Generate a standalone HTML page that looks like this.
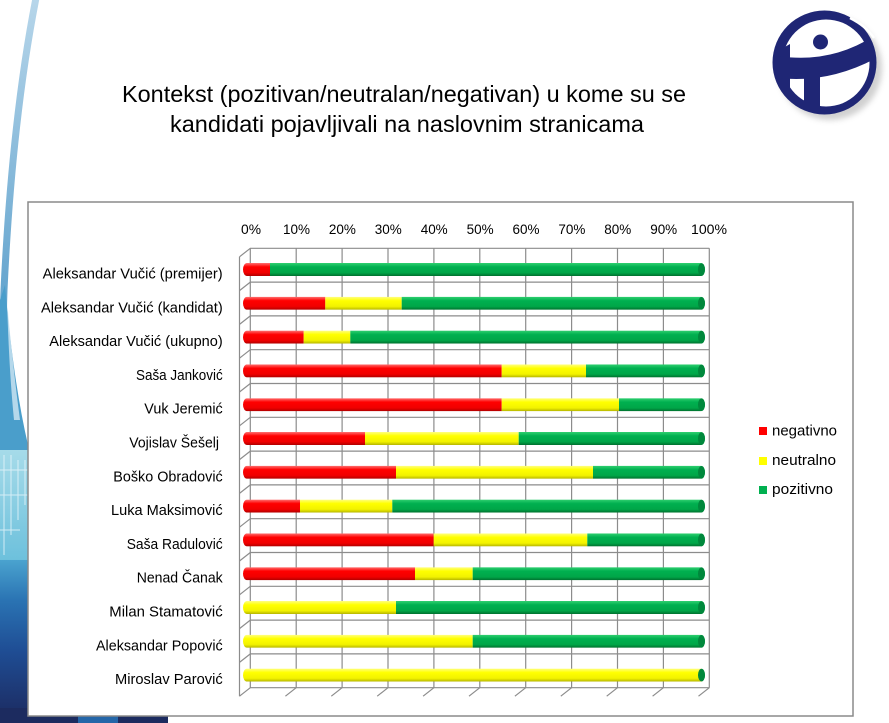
<!DOCTYPE html>
<html>
<head>
<meta charset="utf-8">
<style>
html,body{margin:0;padding:0;background:#fff;}
svg{display:block;}
text{font-family:"Liberation Sans",Arial,sans-serif;}
</style>
</head>
<body>
<svg width="889" height="723" viewBox="0 0 889 723" xmlns="http://www.w3.org/2000/svg">
<defs>
  <linearGradient id="gR" x1="0" y1="0" x2="0" y2="1">
    <stop offset="0" stop-color="#ff7070"/>
    <stop offset="0.3" stop-color="#ff0000"/>
    <stop offset="0.75" stop-color="#f00000"/>
    <stop offset="1" stop-color="#b00000"/>
  </linearGradient>
  <linearGradient id="gY" x1="0" y1="0" x2="0" y2="1">
    <stop offset="0" stop-color="#ffff80"/>
    <stop offset="0.3" stop-color="#ffff00"/>
    <stop offset="0.75" stop-color="#f2f200"/>
    <stop offset="1" stop-color="#b5b500"/>
  </linearGradient>
  <linearGradient id="gG" x1="0" y1="0" x2="0" y2="1">
    <stop offset="0" stop-color="#30d070"/>
    <stop offset="0.3" stop-color="#00b050"/>
    <stop offset="0.75" stop-color="#00a648"/>
    <stop offset="1" stop-color="#00702e"/>
  </linearGradient>
  <linearGradient id="bgBot" x1="0" y1="0" x2="0" y2="1">
    <stop offset="0" stop-color="#4aa3cf"/>
    <stop offset="0.25" stop-color="#2a73b3"/>
    <stop offset="0.55" stop-color="#1f4e95"/>
    <stop offset="0.85" stop-color="#1d3570"/>
    <stop offset="1" stop-color="#1b2a5e"/>
  </linearGradient>
  <linearGradient id="bgCyan" x1="0" y1="0" x2="0" y2="1">
    <stop offset="0" stop-color="#a6dbe9"/>
    <stop offset="1" stop-color="#6cc0dc"/>
  </linearGradient>
  <linearGradient id="bgArc" x1="0" y1="0" x2="0" y2="1">
    <stop offset="0" stop-color="#b7d6ea"/>
    <stop offset="0.6" stop-color="#6aa8d0"/>
    <stop offset="1" stop-color="#3d93c4"/>
  </linearGradient>
  <filter id="blur" x="-20%" y="-20%" width="140%" height="140%">
    <feGaussianBlur stdDeviation="3"/>
  </filter>
  <clipPath id="logoClip"><circle cx="824.5" cy="62.5" r="51"/></clipPath>
</defs>

<!-- left background decoration -->
<path d="M36,-2 Q12,120 4,290 Q1,380 2,460" fill="none" stroke="url(#bgArc)" stroke-width="7"/>
<path d="M5,285 Q13,380 28,445 L28,462 L0,462 L0,300 Z" fill="#4a9ecb"/>
<path d="M7,300 Q12,360 20,420 L14,420 Q9,370 7,300 Z" fill="#cfe6f2" opacity="0.8"/>
<rect x="0" y="450" width="30" height="112" fill="url(#bgCyan)"/>
<g stroke="#e8f6fb" stroke-width="1" opacity="0.8" fill="none">
  <line x1="4" y1="455" x2="4" y2="555"/>
  <line x1="11" y1="455" x2="11" y2="535"/>
  <line x1="18" y1="460" x2="18" y2="520"/>
  <line x1="25" y1="460" x2="25" y2="505"/>
  <line x1="0" y1="470" x2="30" y2="470"/>
  <line x1="0" y1="495" x2="30" y2="495"/>
  <line x1="0" y1="530" x2="20" y2="530"/>
</g>
<rect x="0" y="560" width="30" height="163" fill="url(#bgBot)"/>
<rect x="0" y="708" width="168" height="15" fill="#1c2b5f"/>
<rect x="78" y="708" width="40" height="15" fill="#2466a8"/>

<!-- logo -->
<circle cx="830" cy="68" r="52" fill="#999" opacity="0.45" filter="url(#blur)"/>
<circle cx="824.5" cy="62.5" r="52" fill="#1f2675"/>
<g clip-path="url(#logoClip)">
  <circle cx="826" cy="63" r="43.5" fill="#ffffff"/>
  <path d="M778,56 Q830,64 874,36 L880,56 Q830,84 778,78 Z" fill="#1f2675"/>
  <path d="M804,72 L820,72 L820,116 L804,116 Z" fill="#1f2675"/>
  <path d="M783,48 L790,44 L790,102 L783,96 Z" fill="#1f2675"/>
  <circle cx="820.5" cy="42" r="7.5" fill="#1f2675"/>
</g>
<path d="M850,18 Q866,26 874,38" fill="none" stroke="#ffffff" stroke-width="2.5"/>

<!-- title -->
<text x="122" y="102" font-size="23" fill="#000" textLength="564" lengthAdjust="spacingAndGlyphs">Kontekst (pozitivan/neutralan/negativan) u kome su se</text>
<text x="170" y="132" font-size="23" fill="#000" textLength="474" lengthAdjust="spacingAndGlyphs">kandidati pojavljivali na naslovnim stranicama</text>

<!-- chart box -->
<rect x="28" y="202" width="825" height="514" fill="#ffffff" stroke="#8a8a8a" stroke-width="1.5"/>

<!-- gridlines -->
<g stroke="#8c8c8c" stroke-width="1.2" fill="none">
  <line x1="250" y1="248.3" x2="709.3" y2="248.3"/>
  <line x1="250" y1="282.1" x2="709.3" y2="282.1"/>
  <line x1="250" y1="315.9" x2="709.3" y2="315.9"/>
  <line x1="250" y1="349.7" x2="709.3" y2="349.7"/>
  <line x1="250" y1="383.5" x2="709.3" y2="383.5"/>
  <line x1="250" y1="417.3" x2="709.3" y2="417.3"/>
  <line x1="250" y1="451.1" x2="709.3" y2="451.1"/>
  <line x1="250" y1="484.9" x2="709.3" y2="484.9"/>
  <line x1="250" y1="518.7" x2="709.3" y2="518.7"/>
  <line x1="250" y1="552.5" x2="709.3" y2="552.5"/>
  <line x1="250" y1="586.3" x2="709.3" y2="586.3"/>
  <line x1="250" y1="620.1" x2="709.3" y2="620.1"/>
  <line x1="250" y1="653.9" x2="709.3" y2="653.9"/>
  <line x1="250" y1="687.7" x2="709.3" y2="687.7"/>
  <line x1="250.3" y1="248.3" x2="250.3" y2="687.7"/>
  <line x1="296.2" y1="248.3" x2="296.2" y2="687.7"/>
  <line x1="342.1" y1="248.3" x2="342.1" y2="687.7"/>
  <line x1="388" y1="248.3" x2="388" y2="687.7"/>
  <line x1="433.9" y1="248.3" x2="433.9" y2="687.7"/>
  <line x1="479.8" y1="248.3" x2="479.8" y2="687.7"/>
  <line x1="525.7" y1="248.3" x2="525.7" y2="687.7"/>
  <line x1="571.6" y1="248.3" x2="571.6" y2="687.7"/>
  <line x1="617.5" y1="248.3" x2="617.5" y2="687.7"/>
  <line x1="663.4" y1="248.3" x2="663.4" y2="687.7"/>
  <line x1="709.3" y1="248.3" x2="709.3" y2="687.7"/>
  <line x1="239.5" y1="256.8" x2="239.5" y2="696.2"/>
  <line x1="250.3" y1="248.3" x2="239.5" y2="256.8"/>
  <line x1="250.3" y1="282.1" x2="239.5" y2="290.6"/>
  <line x1="250.3" y1="315.9" x2="239.5" y2="324.4"/>
  <line x1="250.3" y1="349.7" x2="239.5" y2="358.2"/>
  <line x1="250.3" y1="383.5" x2="239.5" y2="392"/>
  <line x1="250.3" y1="417.3" x2="239.5" y2="425.8"/>
  <line x1="250.3" y1="451.1" x2="239.5" y2="459.6"/>
  <line x1="250.3" y1="484.9" x2="239.5" y2="493.4"/>
  <line x1="250.3" y1="518.7" x2="239.5" y2="527.2"/>
  <line x1="250.3" y1="552.5" x2="239.5" y2="561"/>
  <line x1="250.3" y1="586.3" x2="239.5" y2="594.8"/>
  <line x1="250.3" y1="620.1" x2="239.5" y2="628.6"/>
  <line x1="250.3" y1="653.9" x2="239.5" y2="662.4"/>
  <line x1="250.3" y1="687.7" x2="239.5" y2="696.2"/>
  <line x1="296.2" y1="687.7" x2="285.4" y2="696.2"/>
  <line x1="342.1" y1="687.7" x2="331.3" y2="696.2"/>
  <line x1="388" y1="687.7" x2="377.2" y2="696.2"/>
  <line x1="433.9" y1="687.7" x2="423.1" y2="696.2"/>
  <line x1="479.8" y1="687.7" x2="469" y2="696.2"/>
  <line x1="525.7" y1="687.7" x2="514.9" y2="696.2"/>
  <line x1="571.6" y1="687.7" x2="560.8" y2="696.2"/>
  <line x1="617.5" y1="687.7" x2="606.7" y2="696.2"/>
  <line x1="663.4" y1="687.7" x2="652.6" y2="696.2"/>
  <line x1="709.3" y1="687.7" x2="698.5" y2="696.2"/>
</g>

<!-- tick labels -->
<g font-size="14" fill="#000" text-anchor="middle">
  <text x="251" y="234" textLength="20" lengthAdjust="spacingAndGlyphs">0%</text>
  <text x="296.5" y="234" textLength="27" lengthAdjust="spacingAndGlyphs">10%</text>
  <text x="342.4" y="234" textLength="27" lengthAdjust="spacingAndGlyphs">20%</text>
  <text x="388.3" y="234" textLength="27" lengthAdjust="spacingAndGlyphs">30%</text>
  <text x="434.2" y="234" textLength="27" lengthAdjust="spacingAndGlyphs">40%</text>
  <text x="480.1" y="234" textLength="27" lengthAdjust="spacingAndGlyphs">50%</text>
  <text x="526" y="234" textLength="27" lengthAdjust="spacingAndGlyphs">60%</text>
  <text x="571.9" y="234" textLength="27" lengthAdjust="spacingAndGlyphs">70%</text>
  <text x="617.8" y="234" textLength="27" lengthAdjust="spacingAndGlyphs">80%</text>
  <text x="663.7" y="234" textLength="27" lengthAdjust="spacingAndGlyphs">90%</text>
  <text x="709" y="234" textLength="36" lengthAdjust="spacingAndGlyphs">100%</text>
</g>

<!-- row labels -->
<g font-size="14.5" fill="#000">
  <text x="42.7" y="278.5" textLength="180" lengthAdjust="spacingAndGlyphs">Aleksandar Vučić (premijer)</text>
  <text x="41" y="312.3" textLength="181.7" lengthAdjust="spacingAndGlyphs">Aleksandar Vučić (kandidat)</text>
  <text x="49.3" y="346.1" textLength="173.4" lengthAdjust="spacingAndGlyphs">Aleksandar Vučić (ukupno)</text>
  <text x="136" y="379.9" textLength="86.7" lengthAdjust="spacingAndGlyphs">Saša Janković</text>
  <text x="144.3" y="413.7" textLength="78.4" lengthAdjust="spacingAndGlyphs">Vuk Jeremić</text>
  <text x="129.3" y="447.5" textLength="89.7" lengthAdjust="spacingAndGlyphs">Vojislav Šešelj</text>
  <text x="113.3" y="481.3" textLength="109.4" lengthAdjust="spacingAndGlyphs">Boško Obradović</text>
  <text x="111" y="515.1" textLength="111.7" lengthAdjust="spacingAndGlyphs">Luka Maksimović</text>
  <text x="126.7" y="548.9" textLength="96" lengthAdjust="spacingAndGlyphs">Saša Radulović</text>
  <text x="136.7" y="582.7" textLength="86" lengthAdjust="spacingAndGlyphs">Nenad Čanak</text>
  <text x="109.3" y="616.5" textLength="113.4" lengthAdjust="spacingAndGlyphs">Milan Stamatović</text>
  <text x="96" y="650.3" textLength="126.7" lengthAdjust="spacingAndGlyphs">Aleksandar Popović</text>
  <text x="115" y="684.1" textLength="107.7" lengthAdjust="spacingAndGlyphs">Miroslav Parović</text>
</g>

<!-- bars -->
<defs>
  <clipPath id="c0"><rect x="243" y="263" width="462" height="13" rx="4" ry="6.5"/></clipPath>
  <clipPath id="c1"><rect x="243" y="296.8" width="462" height="13" rx="4" ry="6.5"/></clipPath>
  <clipPath id="c2"><rect x="243" y="330.6" width="462" height="13" rx="4" ry="6.5"/></clipPath>
  <clipPath id="c3"><rect x="243" y="364.4" width="462" height="13" rx="4" ry="6.5"/></clipPath>
  <clipPath id="c4"><rect x="243" y="398.2" width="462" height="13" rx="4" ry="6.5"/></clipPath>
  <clipPath id="c5"><rect x="243" y="432" width="462" height="13" rx="4" ry="6.5"/></clipPath>
  <clipPath id="c6"><rect x="243" y="465.8" width="462" height="13" rx="4" ry="6.5"/></clipPath>
  <clipPath id="c7"><rect x="243" y="499.6" width="462" height="13" rx="4" ry="6.5"/></clipPath>
  <clipPath id="c8"><rect x="243" y="533.4" width="462" height="13" rx="4" ry="6.5"/></clipPath>
  <clipPath id="c9"><rect x="243" y="567.2" width="462" height="13" rx="4" ry="6.5"/></clipPath>
  <clipPath id="c10"><rect x="243" y="601" width="462" height="13" rx="4" ry="6.5"/></clipPath>
  <clipPath id="c11"><rect x="243" y="634.8" width="462" height="13" rx="4" ry="6.5"/></clipPath>
  <clipPath id="c12"><rect x="243" y="668.6" width="462" height="13" rx="4" ry="6.5"/></clipPath>
</defs>

<g clip-path="url(#c0)">
  <rect x="243" y="263" width="27" height="13" fill="url(#gR)"/>
  <rect x="270" y="263" width="435" height="13" fill="url(#gG)"/>
</g>
<g clip-path="url(#c1)">
  <rect x="243" y="296.8" width="82.3" height="13" fill="url(#gR)"/>
  <rect x="325.3" y="296.8" width="76.4" height="13" fill="url(#gY)"/>
  <rect x="401.7" y="296.8" width="303.3" height="13" fill="url(#gG)"/>
</g>
<g clip-path="url(#c2)">
  <rect x="243" y="330.6" width="60.7" height="13" fill="url(#gR)"/>
  <rect x="303.7" y="330.6" width="46.6" height="13" fill="url(#gY)"/>
  <rect x="350.3" y="330.6" width="354.7" height="13" fill="url(#gG)"/>
</g>
<g clip-path="url(#c3)">
  <rect x="243" y="364.4" width="258.7" height="13" fill="url(#gR)"/>
  <rect x="501.7" y="364.4" width="84.3" height="13" fill="url(#gY)"/>
  <rect x="586" y="364.4" width="119" height="13" fill="url(#gG)"/>
</g>
<g clip-path="url(#c4)">
  <rect x="243" y="398.2" width="258.7" height="13" fill="url(#gR)"/>
  <rect x="501.7" y="398.2" width="117.3" height="13" fill="url(#gY)"/>
  <rect x="619" y="398.2" width="86" height="13" fill="url(#gG)"/>
</g>
<g clip-path="url(#c5)">
  <rect x="243" y="432" width="122" height="13" fill="url(#gR)"/>
  <rect x="365" y="432" width="153.7" height="13" fill="url(#gY)"/>
  <rect x="518.7" y="432" width="186.3" height="13" fill="url(#gG)"/>
</g>
<g clip-path="url(#c6)">
  <rect x="243" y="465.8" width="153" height="13" fill="url(#gR)"/>
  <rect x="396" y="465.8" width="197" height="13" fill="url(#gY)"/>
  <rect x="593" y="465.8" width="112" height="13" fill="url(#gG)"/>
</g>
<g clip-path="url(#c7)">
  <rect x="243" y="499.6" width="57" height="13" fill="url(#gR)"/>
  <rect x="300" y="499.6" width="92.3" height="13" fill="url(#gY)"/>
  <rect x="392.3" y="499.6" width="312.7" height="13" fill="url(#gG)"/>
</g>
<g clip-path="url(#c8)">
  <rect x="243" y="533.4" width="190.7" height="13" fill="url(#gR)"/>
  <rect x="433.7" y="533.4" width="153.6" height="13" fill="url(#gY)"/>
  <rect x="587.3" y="533.4" width="117.7" height="13" fill="url(#gG)"/>
</g>
<g clip-path="url(#c9)">
  <rect x="243" y="567.2" width="172" height="13" fill="url(#gR)"/>
  <rect x="415" y="567.2" width="57.7" height="13" fill="url(#gY)"/>
  <rect x="472.7" y="567.2" width="232.3" height="13" fill="url(#gG)"/>
</g>
<g clip-path="url(#c10)">
  <rect x="243" y="601" width="153" height="13" fill="url(#gY)"/>
  <rect x="396" y="601" width="309" height="13" fill="url(#gG)"/>
</g>
<g clip-path="url(#c11)">
  <rect x="243" y="634.8" width="229.7" height="13" fill="url(#gY)"/>
  <rect x="472.7" y="634.8" width="232.3" height="13" fill="url(#gG)"/>
</g>
<g clip-path="url(#c12)">
  <rect x="243" y="668.6" width="459" height="13" fill="url(#gY)"/>
  <rect x="702" y="668.6" width="3" height="13" fill="url(#gG)"/>
</g>

<!-- right end caps -->
<g fill="#00883c">
  <ellipse cx="701.5" cy="269.5" rx="3.5" ry="6.3"/>
  <ellipse cx="701.5" cy="303.3" rx="3.5" ry="6.3"/>
  <ellipse cx="701.5" cy="337.1" rx="3.5" ry="6.3"/>
  <ellipse cx="701.5" cy="370.9" rx="3.5" ry="6.3"/>
  <ellipse cx="701.5" cy="404.7" rx="3.5" ry="6.3"/>
  <ellipse cx="701.5" cy="438.5" rx="3.5" ry="6.3"/>
  <ellipse cx="701.5" cy="472.3" rx="3.5" ry="6.3"/>
  <ellipse cx="701.5" cy="506.1" rx="3.5" ry="6.3"/>
  <ellipse cx="701.5" cy="539.9" rx="3.5" ry="6.3"/>
  <ellipse cx="701.5" cy="573.7" rx="3.5" ry="6.3"/>
  <ellipse cx="701.5" cy="607.5" rx="3.5" ry="6.3"/>
  <ellipse cx="701.5" cy="641.3" rx="3.5" ry="6.3"/>
  <ellipse cx="701.5" cy="675.1" rx="3.5" ry="6.3"/>
</g>

<!-- legend -->
<rect x="759" y="427" width="8" height="8" fill="#ff0000"/>
<rect x="759" y="457" width="8" height="8" fill="#ffff00"/>
<rect x="759" y="486" width="8" height="8" fill="#00b050"/>
<g font-size="14.5" fill="#000">
  <text x="772" y="435.5" textLength="65" lengthAdjust="spacingAndGlyphs">negativno</text>
  <text x="772" y="465" textLength="64" lengthAdjust="spacingAndGlyphs">neutralno</text>
  <text x="772" y="494" textLength="61" lengthAdjust="spacingAndGlyphs">pozitivno</text>
</g>
</svg>
</body>
</html>
